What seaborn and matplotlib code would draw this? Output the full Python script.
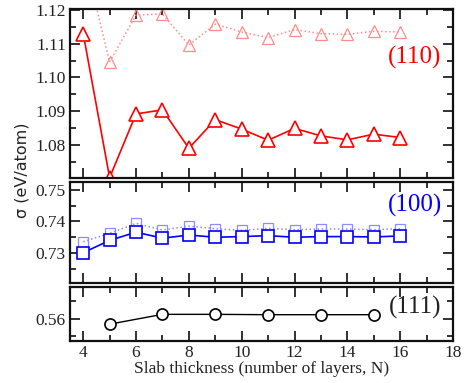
import matplotlib
matplotlib.use("Agg")
import matplotlib.pyplot as plt
import seaborn as sns
import pandas as pd
from matplotlib.ticker import MultipleLocator

# ---- data ----
n_110 = [4, 5, 6, 7, 8, 9, 10, 11, 12, 13, 14, 15, 16]
s_110 = [1.1130, 1.0703, 1.0892, 1.0904, 1.0790, 1.0875, 1.0847, 1.0814, 1.0849, 1.0827, 1.0815, 1.0832, 1.0822]
s_110_dot = [1.1370, 1.1046, 1.1185, 1.1188, 1.1096, 1.1158, 1.1135, 1.1118, 1.1142, 1.1130, 1.1128, 1.1137, 1.1135]

n_100 = [4, 5, 6, 7, 8, 9, 10, 11, 12, 13, 14, 15, 16]
s_100 = [0.7301, 0.7340, 0.7366, 0.7347, 0.7357, 0.7350, 0.7352, 0.7355, 0.7350, 0.7352, 0.7352, 0.7351, 0.7354]
s_100_dot = [0.7336, 0.7362, 0.7394, 0.7373, 0.7385, 0.7377, 0.7372, 0.7378, 0.7374, 0.7376, 0.7376, 0.7374, 0.7377]

n_111 = [5, 7, 9, 11, 13, 15]
s_111 = [0.5585, 0.5613, 0.5613, 0.5612, 0.5612, 0.5612]

labels = ["(110)", "(100)", "(111)"]
label_colors = ["#ff0000", "#0000ff", "#222222"]

sns.set_theme(style="ticks")
plt.rcParams['font.family'] = ['Liberation Serif', 'DejaVu Serif']
plt.rcParams['mathtext.fontset'] = 'dejavusans'

fig = plt.figure(figsize=(4.70, 3.83), dpi=100)
L, R = 70/470, 453/470
def rect(top, bot):
    return [L, 1 - bot/383, R - L, (bot - top)/383]
ax1 = fig.add_axes(rect(9, 178))
ax2 = fig.add_axes(rect(182, 283))
ax3 = fig.add_axes(rect(287, 341))

d110 = pd.DataFrame({"N": n_110, "s": s_110, "sd": s_110_dot})
d100 = pd.DataFrame({"N": n_100, "s": s_100, "sd": s_100_dot})
d111 = pd.DataFrame({"N": n_111, "s": s_111})

red, blue = "#ff0000", "#0000ff"
lightred, lightblue = "#ff8c8c", "#8c8cff"

sns.lineplot(data=d110, x="N", y="sd", ax=ax1, color=lightred, linestyle=":", lw=1.1,
             marker="^", markersize=8, markerfacecolor="none", markeredgecolor=lightred, markeredgewidth=0.9)
sns.lineplot(data=d110, x="N", y="s", ax=ax1, color=red, lw=1.2,
             marker="^", markersize=9.5, markerfacecolor="white", markeredgecolor=red, markeredgewidth=1.2)

sns.lineplot(data=d100, x="N", y="sd", ax=ax2, color=lightblue, linestyle=":", lw=1.1,
             marker="s", markersize=7, markerfacecolor="none", markeredgecolor=lightblue, markeredgewidth=0.9)
sns.lineplot(data=d100, x="N", y="s", ax=ax2, color=blue, lw=1.2,
             marker="s", markersize=8, markerfacecolor="white", markeredgecolor=blue, markeredgewidth=1.2)

sns.lineplot(data=d111, x="N", y="s", ax=ax3, color="black", lw=1.0,
             marker="o", markersize=8, markerfacecolor="white", markeredgecolor="black", markeredgewidth=1.2)

ylims = [(1.0702, 1.1203), (0.7205, 0.7525), (0.5537, 0.5691)]
for ax, yl, lab, c, ty in zip([ax1, ax2, ax3], ylims, labels, label_colors, [57, 205, 307]):
    ax.set_xlim(3.5, 18)
    ax.set_ylim(*yl)
    ax.xaxis.set_major_locator(MultipleLocator(2))
    ax.xaxis.set_minor_locator(MultipleLocator(1))
    ax.yaxis.set_major_locator(MultipleLocator(0.01))
    ax.yaxis.set_minor_locator(MultipleLocator(0.005))
    ax.tick_params(which="both", direction="in", top=True, right=True, labelsize=12.5,
                   colors="#222222", width=1.3)
    ax.tick_params(which="major", length=7, pad=3)
    ax.tick_params(which="minor", length=4)
    for sp in ax.spines.values():
        sp.set_linewidth(1.6)
        sp.set_color("#111111")
    ax.set_xlabel("")
    ax.set_ylabel("")
    ax.yaxis.set_major_formatter(matplotlib.ticker.FormatStrFormatter("%.2f"))
    fig.text(415/470, 1 - ty/383, lab, color=c, fontsize=18, ha="center", va="center")

ax1.tick_params(labelbottom=False)
ax2.tick_params(labelbottom=False)

ax3.set_xlabel("Slab thickness (number of layers, N)", fontsize=12.5, color="#222222", labelpad=0)
fig.text(22/470, 1 - 170/383, "σ (eV/atom)", rotation=90, ha="center", va="center",
         fontsize=11.5, family=["DejaVu Sans"], color="#222222")

fig.savefig("out.png", dpi=100)
